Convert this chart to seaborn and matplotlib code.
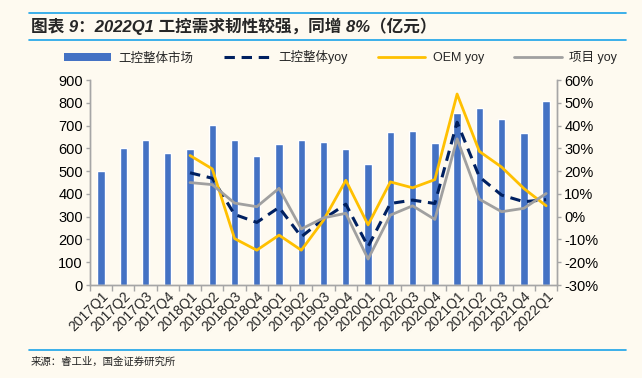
import numpy as np
import pandas as pd
import matplotlib
matplotlib.use("Agg")
import matplotlib.pyplot as plt
from matplotlib.lines import Line2D
from matplotlib.patches import Patch
from matplotlib.ticker import FuncFormatter, FixedLocator
import seaborn as sns

quarters = ["2017Q1", "2017Q2", "2017Q3", "2017Q4",
            "2018Q1", "2018Q2", "2018Q3", "2018Q4",
            "2019Q1", "2019Q2", "2019Q3", "2019Q4",
            "2020Q1", "2020Q2", "2020Q3", "2020Q4",
            "2021Q1", "2021Q2", "2021Q3", "2021Q4", "2022Q1"]
market = [502, 602, 638, 581, 597, 703, 638, 565, 618, 638, 628, 598,
          533, 672, 676, 624, 757, 777, 730, 666, 810]
total_yoy = [np.nan, np.nan, np.nan, np.nan, 19.3, 16.9, 1.0, -2.5, 4.1, -8.8, -1.0, 5.5,
             -13.1, 5.8, 7.3, 5.8, 41.5, 17.5, 9.5, 6.6, 7.5]
oem_yoy = [np.nan, np.nan, np.nan, np.nan, 26.9, 21.0, -9.6, -14.7, -8.1, -14.7, -1.5, 16.0,
           -3.6, 15.3, 12.7, 16.3, 53.9, 28.7, 21.8, 12.4, 4.8]
proj_yoy = [np.nan, np.nan, np.nan, np.nan, 15.0, 14.1, 6.0, 4.4, 12.5, -5.4, -0.5, 1.5,
            -18.6, 0.7, 4.8, -1.2, 34.2, 7.7, 2.2, 3.7, 10.2]

title = "图表 9：2022Q1 工控需求韧性较强，同增 8%（亿元）"
source = "来源：睿工业，国金证券研究所"
leg_labels = ["工控整体市场", "工控整体yoy", "OEM yoy", "项目 yoy"]

bg = "#FEFAF0"
bar_c = "#4472C4"
navy = "#002060"
yellow = "#FFC000"
gray = "#A0A0A0"
cyan = "#1AA3E8"
axc = "#A6A6A6"

sns.set_theme(style="white")
plt.rcParams["font.family"] = ["Liberation Sans", "Noto Sans CJK SC", "DejaVu Sans"]
cjk = ["Noto Sans CJK SC", "DejaVu Sans"]

df = pd.DataFrame({"q": quarters, "market": market, "total": total_yoy,
                   "oem": oem_yoy, "proj": proj_yoy})
df["i"] = np.arange(len(df))

fig = plt.figure(figsize=(6.42, 3.78), dpi=100, facecolor=bg)
ax = fig.add_axes([0.140, 0.246, 0.728, 0.542])
ax.set_facecolor(bg)

sns.barplot(data=df, x="q", y="market", color=bar_c, width=0.33, ax=ax,
            saturation=1, order=quarters)
ax.set_ylim(0, 900)
ax.set_yticks(np.arange(0, 901, 100))
ax.set_xlim(-0.5, len(quarters) - 0.5)
ax.set_xlabel("")
ax.set_ylabel("")

ax2 = ax.twinx()
sns.lineplot(data=df, x="i", y="total", color=navy, lw=2.2, ax=ax2,
             linestyle=(0, (3.4, 2.2)))
sns.lineplot(data=df, x="i", y="oem", color=yellow, lw=2.0, ax=ax2)
sns.lineplot(data=df, x="i", y="proj", color=gray, lw=2.0, ax=ax2)
ax2.set_ylim(-30, 60)
ax2.set_yticks(np.arange(-30, 61, 10))
ax2.yaxis.set_major_formatter(FuncFormatter(lambda v, p: f"{int(round(v))}%"))
ax2.set_xlim(-0.5, len(quarters) - 0.5)
ax2.set_xlabel("")
ax2.set_ylabel("")

for a in (ax, ax2):
    for s in a.spines.values():
        s.set_color(axc)
        s.set_linewidth(1.0)
    a.spines["top"].set_visible(False)
    a.grid(False)

ax.tick_params(axis="y", labelsize=10.5, colors="#000000", length=3, width=1,
               direction="out", color=axc, pad=2, left=True)
ax2.tick_params(axis="y", labelsize=10.5, colors="#000000", length=3, width=1,
                direction="out", color=axc, pad=2, right=True)
ax.set_xticks(np.arange(len(quarters)))
ax.set_xticklabels(quarters, rotation=45, ha="right", rotation_mode="anchor",
                   fontsize=10)
ax.tick_params(axis="x", length=0, pad=3)
ax.xaxis.set_minor_locator(FixedLocator(np.arange(-0.5, len(quarters), 1.0)))
ax.tick_params(axis="x", which="minor", length=4, width=1, color=axc,
               direction="out", bottom=True)
ax2.tick_params(axis="x", bottom=False, labelbottom=False)

# title, rules, footer
fig.add_artist(Line2D([0.045, 0.975], [0.965, 0.965], color=cyan, lw=1.2))
fig.add_artist(Line2D([0.045, 0.975], [0.893, 0.893], color=cyan, lw=1.2))
fig.text(0.048, 0.93, title, fontsize=12, fontweight="bold", style="italic",
         va="center", ha="left", family=["Liberation Sans", "Noto Sans CJK SC"])
fig.add_artist(Line2D([0.045, 0.975], [0.074, 0.074], color=cyan, lw=1.2))
fig.text(0.048, 0.043, source, fontsize=7.5, va="center", ha="left",
         family=cjk, color="#222222")

handles = [Patch(facecolor=bar_c, edgecolor="none"),
           Line2D([], [], color=navy, lw=2.2, linestyle=(0, (3.4, 2.2))),
           Line2D([], [], color=yellow, lw=2.0),
           Line2D([], [], color=gray, lw=2.0)]
leg = fig.legend(handles, leg_labels, loc="center", bbox_to_anchor=(0.53, 0.848),
                 ncol=4, frameon=False, fontsize=9, handlelength=3.8,
                 handleheight=0.6, columnspacing=2.4, handletextpad=0.6)
for t in leg.get_texts():
    t.set_family(["Liberation Sans", "Noto Sans CJK SC"])

fig.savefig("out.png", dpi=100, facecolor=bg)
